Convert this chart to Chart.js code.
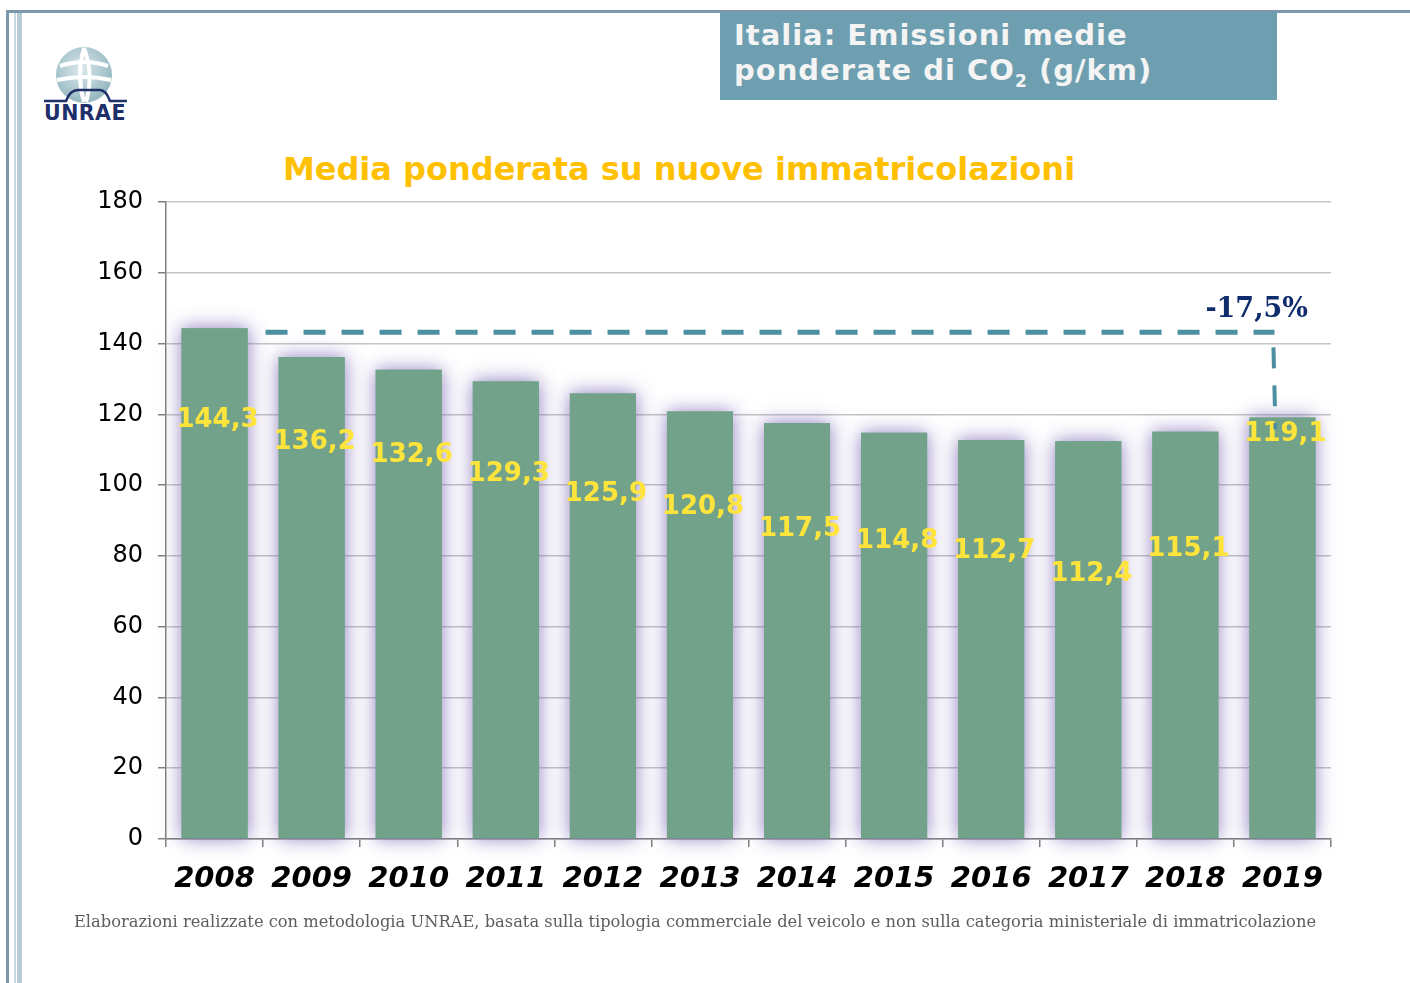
<!DOCTYPE html>
<html>
<head>
<meta charset="utf-8">
<script src="https://cdn.jsdelivr.net/npm/chart.js@4.4.1/dist/chart.umd.min.js"></script>
<style>
    body { margin: 0; background: #fff; }
    #page { position: relative; width: 1410px; height: 983px; overflow: hidden; background: #fff; font-family: "DejaVu Sans", sans-serif; }
    .frame-top { position: absolute; left: 6px; top: 10px; width: 1404px; height: 3px; background: #7d98ad; }
    .frame-left { position: absolute; left: 6px; top: 10px; width: 3px; height: 973px; background: #7d98ad; }
    .frame-in1 { position: absolute; left: 14px; top: 13px; width: 2px; height: 970px; background: #c9d8df; }
    .frame-in2 { position: absolute; left: 17px; top: 13px; width: 5px; height: 970px; background: #b7cbd4; }
    #headBox { position: absolute; left: 720px; top: 12px; width: 557px; height: 88px; background: #6d9fb0; color: #f4f4f4;
        font-weight: bold; font-size: 29px; line-height: 35px; padding: 6px 0 0 14px; box-sizing: border-box; letter-spacing: 1px; }
    #headBox sub { font-size: 17px; line-height: 0; }
    #chartTitle { position: absolute; left: 0; width: 1358px; top: 150px; text-align: center; color: #ffc000; font-weight: bold; font-size: 32px; }
    #note { position: absolute; left: 0; width: 1390px; top: 912px; text-align: center; color: #5d5d5d; font-family: "DejaVu Serif", serif; font-size: 16.3px; }
    #logo { position: absolute; left: 40px; top: 44px; }
    canvas { position: absolute; left: 0; top: 0; }
</style>
</head>
<body>
<div id="page">
    <div class="frame-top"></div>
    <div class="frame-left"></div>
    <div class="frame-in1"></div>
    <div class="frame-in2"></div>

    <svg id="logo" width="95" height="80" viewBox="0 0 95 80">
        <defs>
            <radialGradient id="g" cx="0.45" cy="0.4" r="0.65">
                <stop offset="0" stop-color="#dbe9ec"/>
                <stop offset="1" stop-color="#8fb3bd"/>
            </radialGradient>
        </defs>
        <circle cx="44" cy="31" r="28" fill="url(#g)"/>
        <path d="M20 22 Q44 14 68 22 M17 36 Q44 30 71 36 M44 4 Q36 31 44 58 M44 4 Q54 31 46 58" stroke="#fff" stroke-width="4" fill="none"/>
        <path d="M4 57 L26 57 Q30 46 38 46 L60 46 Q66 46 70 57 L87 57" stroke="#1f2f6a" stroke-width="2.5" fill="none"/>
        <text x="45" y="76" text-anchor="middle" font-family="DejaVu Sans" font-weight="bold" font-size="21" fill="#1f2f6a" letter-spacing="0.5" textLength="82" lengthAdjust="spacingAndGlyphs">UNRAE</text>
    </svg>

    <div id="headBox">Italia: Emissioni medie<br>ponderate di CO<sub>2</sub> (g/km)</div>
    <div id="chartTitle">Media ponderata su nuove immatricolazioni</div>

    <canvas id="co2Chart" width="1410" height="983"></canvas>

    <div id="note">Elaborazioni realizzate con metodologia UNRAE, basata sulla tipologia commerciale del veicolo e non sulla categoria ministeriale di immatricolazione</div>
</div>

<script>
const years = ['2008', '2009', '2010', '2011', '2012', '2013', '2014', '2015', '2016', '2017', '2018', '2019'];
const emissions = [144.3, 136.2, 132.6, 129.3, 125.9, 120.8, 117.5, 114.8, 112.7, 112.4, 115.1, 119.1];
const yMin = 0;
const yMax = 180;
const yStep = 20;
const changeLabel = '-17,5%';

function formatValue(v) {
    return v.toFixed(1).replace('.', ',');
}

// purple glow behind the bars: draw the bars once more with a shadow underneath
const glowPlugin = {
    id: 'glow',
    beforeDatasetsDraw(chart) {
        const ctx = chart.ctx;
        const meta = chart.getDatasetMeta(0);
        ctx.save();
        ctx.shadowColor = 'rgba(120, 100, 180, 0.85)';
        ctx.shadowBlur = 18;
        ctx.fillStyle = '#72a38a';
        meta.data.forEach(bar => {
            const w = bar.width;
            ctx.fillRect(bar.x - w / 2, bar.y, w, bar.base - bar.y);
        });
        ctx.restore();
    }
};

// value labels, placed inside the bars (pixel nudges from bar top)
const valueLabels = {
    id: 'valueLabels',
    afterDatasetsDraw(chart, args, opts) {
        const ctx = chart.ctx;
        const meta = chart.getDatasetMeta(0);
        ctx.save();
        ctx.font = 'bold 26px "DejaVu Sans"';
        ctx.fillStyle = '#ffe53b';
        ctx.textAlign = 'center';
        ctx.textBaseline = 'middle';
        meta.data.forEach((bar, i) => {
            const dy = opts.nudge[i] || 0;
            ctx.fillText(formatValue(emissions[i]), bar.x + 3, bar.y + dy);
        });
        ctx.restore();
    }
};

// dashed reference line from first bar to last bar + percentage
const changeLine = {
    id: 'changeLine',
    afterDatasetsDraw(chart) {
        const ctx = chart.ctx;
        const meta = chart.getDatasetMeta(0);
        const first = meta.data[0];
        const last = meta.data[meta.data.length - 1];
        const y = first.y + 4;
        const x0 = first.x + first.width / 2 + 18;
        const x1 = last.x - 8;

        ctx.save();
        ctx.strokeStyle = '#4b8fa1';
        ctx.lineWidth = 5;
        ctx.setLineDash([22, 16]);
        ctx.beginPath();
        ctx.moveTo(x0, y);
        ctx.lineTo(x1, y);
        ctx.stroke();

        ctx.lineWidth = 4;
        ctx.setLineDash([21, 17]);
        ctx.beginPath();
        ctx.moveTo(x1 - 1, y + 15);
        ctx.lineTo(x1 + 1, last.y + 12);
        ctx.stroke();

        ctx.setLineDash([]);
        ctx.font = 'bold 27px "DejaVu Serif"';
        ctx.fillStyle = '#0f2c6c';
        ctx.textAlign = 'right';
        ctx.textBaseline = 'alphabetic';
        ctx.fillText(changeLabel, chart.chartArea.right - 23, y - 15);
        ctx.restore();
    }
};

const ctx = document.getElementById('co2Chart').getContext('2d');

new Chart(ctx, {
    type: 'bar',
    data: {
        labels: years,
        datasets: [{
            data: emissions,
            backgroundColor: '#72a38a',
            borderWidth: 0,
            barPercentage: 0.68,
            categoryPercentage: 1
        }]
    },
    options: {
        responsive: false,
        animation: false,
        layout: {
            padding: { left: 96, right: 79, top: 202, bottom: 84 }
        },
        plugins: {
            legend: { display: false },
            tooltip: { enabled: false },
            valueLabels: {
                nudge: [92, 85, 86, 93, 101, 96, 106, 109, 111, 133, 118, 17]
            }
        },
        scales: {
            x: {
                afterFit: s => { s.height = 60; },
                grid: {
                    offset: true,
                    drawOnChartArea: false,
                    tickLength: 8,
                    tickColor: '#808080',
                    lineWidth: 1.5
                },
                border: { color: '#808080', width: 1.5 },
                ticks: {
                    color: '#000',
                    padding: 15,
                    font: { family: '"DejaVu Sans"', size: 29, weight: 'bold', style: 'italic' }
                }
            },
            y: {
                min: yMin,
                max: yMax,
                afterFit: s => { s.width = 70; },
                grid: {
                    color: '#c4c4c4',
                    lineWidth: 1.5,
                    tickLength: 8,
                    tickColor: '#808080'
                },
                border: { color: '#808080', width: 1.5 },
                ticks: {
                    stepSize: yStep,
                    color: '#000',
                    padding: 15,
                    font: { family: '"DejaVu Sans"', size: 24 }
                }
            }
        }
    },
    plugins: [glowPlugin, valueLabels, changeLine]
});
</script>
</body>
</html>
